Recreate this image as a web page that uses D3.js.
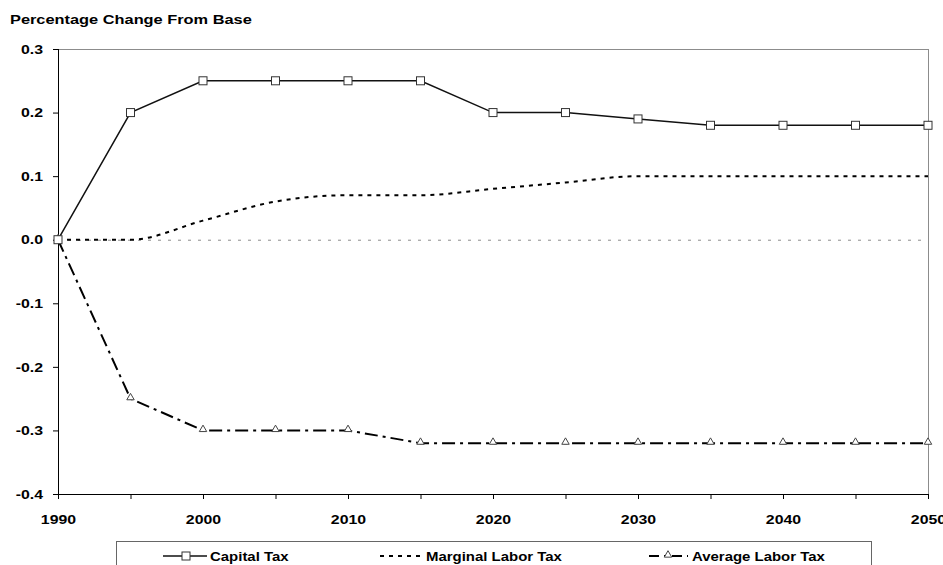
<!DOCTYPE html>
<html>
<head>
<meta charset="utf-8">
<script src="https://d3js.org/d3.v7.min.js"></script>
<style>
  body { margin: 0; background: #fff; }
  text { font-family: Arial, "Liberation Sans", sans-serif; font-weight: bold; }
</style>
</head>
<body>
<div id="canvas"></div>
<script>
  // Data
  var years = [1990, 1995, 2000, 2005, 2010, 2015, 2020, 2025, 2030, 2035, 2040, 2045, 2050];
  var capitalTax = [0, 0.20, 0.25, 0.25, 0.25, 0.25, 0.20, 0.20, 0.19, 0.18, 0.18, 0.18, 0.18];
  var marginalLaborTax = [0, 0, 0.03, 0.06, 0.07, 0.07, 0.08, 0.09, 0.10, 0.10, 0.10, 0.10, 0.10];
  var averageLaborTax = [0, -0.25, -0.30, -0.30, -0.30, -0.32, -0.32, -0.32, -0.32, -0.32, -0.32, -0.32, -0.32];
  var xTickLabels = [1990, 2000, 2010, 2020, 2030, 2040, 2050];
  var yTicks = [0.3, 0.2, 0.1, 0, -0.1, -0.2, -0.3, -0.4];
  var seriesNames = ['Capital Tax', 'Marginal Labor Tax', 'Average Labor Tax'];

  var W = 943, H = 565;
  var plotLeft = 58, plotRight = 928, plotTop = 49, plotBottom = 494;
  var stretch = 1.22; // text in the original is drawn a bit wide

  var svg = d3.select('#canvas').append('svg')
    .attr('width', W).attr('height', H);

  var x = d3.scaleLinear().domain([1990, 2050]).range([plotLeft, plotRight]);
  var y = d3.scaleLinear().domain([-0.4, 0.3]).range([plotBottom, plotTop]);

  // title
  svg.append('text')
    .attr('transform', 'translate(10,24) scale(1.26,1)')
    .style('font-size', '13px')
    .text('Percentage Change From Base');

  // frame (top / right in gray)
  svg.append('rect')
    .attr('x', plotLeft + 0.5).attr('y', plotTop + 0.5)
    .attr('width', plotRight - plotLeft).attr('height', plotBottom - plotTop)
    .attr('fill', 'none').attr('stroke', '#8c8c8c').attr('stroke-width', 1);

  // zero line
  svg.append('line')
    .attr('x1', plotLeft).attr('x2', plotRight)
    .attr('y1', y(0) + 0.5).attr('y2', y(0) + 0.5)
    .attr('stroke', '#8c8c8c').attr('stroke-width', 1)
    .attr('stroke-dasharray', '3,7');

  // axes
  var xAxis = d3.axisBottom(x)
    .tickValues(years)
    .tickSize(5)
    .tickFormat(function(d) { return xTickLabels.indexOf(d) >= 0 ? d : ''; });
  var gx = svg.append('g')
    .attr('transform', 'translate(0,' + plotBottom + ')')
    .call(xAxis);
  gx.select('.domain').attr('d', 'M' + plotLeft + ',0.5H' + plotRight).attr('stroke', '#000');
  gx.selectAll('.tick line').attr('stroke', '#000');
  gx.selectAll('.tick text')
    .attr('y', 0).attr('dy', '0')
    .attr('transform', 'translate(0,30) scale(' + stretch + ',1)')
    .style('font-size', '13px').attr('fill', '#000');

  var fmt = d3.format('.1f');
  var yAxis = d3.axisLeft(y)
    .tickValues(yTicks)
    .tickSize(5)
    .tickFormat(function(d) { return fmt(d).replace('\u2212', '-'); });
  var gy = svg.append('g')
    .attr('transform', 'translate(' + plotLeft + ',0)')
    .call(yAxis);
  gy.select('.domain').attr('d', 'M0.5,' + plotTop + 'V' + plotBottom).attr('stroke', '#000');
  gy.selectAll('.tick line').attr('stroke', '#000');
  gy.selectAll('.tick text')
    .attr('x', 0)
    .attr('transform', 'translate(-15,0) scale(' + stretch + ',1)')
    .style('font-size', '13px').attr('fill', '#000');

  // series
  function pts(vals) { return years.map(function(yr, i) { return [yr, vals[i]]; }); }

  var straight = d3.line().x(function(d) { return x(d[0]); }).y(function(d) { return y(d[1]); });
  var smooth = d3.line().curve(d3.curveMonotoneX)
    .x(function(d) { return x(d[0]); }).y(function(d) { return y(d[1]); });

  svg.append('path')
    .attr('d', smooth(pts(marginalLaborTax)))
    .attr('fill', 'none').attr('stroke', '#000').attr('stroke-width', 2)
    .attr('stroke-dasharray', '4,5');

  svg.append('path')
    .attr('d', straight(pts(averageLaborTax)))
    .attr('fill', 'none').attr('stroke', '#000').attr('stroke-width', 2)
    .attr('stroke-dasharray', '13,5,3,5');

  svg.append('path')
    .attr('d', straight(pts(capitalTax)))
    .attr('fill', 'none').attr('stroke', '#111').attr('stroke-width', 1.5);

  var tri = d3.symbol().type(d3.symbolTriangle).size(24);

  svg.append('g').selectAll('path')
    .data(pts(averageLaborTax))
    .enter().append('path')
      .attr('d', tri)
      .attr('transform', function(d) { return 'translate(' + x(d[0]) + ',' + (y(d[1]) - 1) + ')'; })
      .attr('fill', '#fff').attr('stroke', '#444').attr('stroke-width', 1);

  svg.append('g').selectAll('rect')
    .data(pts(capitalTax))
    .enter().append('rect')
      .attr('x', function(d) { return x(d[0]) - 4; })
      .attr('y', function(d) { return y(d[1]) - 4; })
      .attr('width', 8).attr('height', 8)
      .attr('fill', '#fff').attr('stroke', '#333').attr('stroke-width', 1);

  // legend
  var lg = svg.append('g');
  lg.append('rect')
    .attr('x', 116.5).attr('y', 541.5)
    .attr('width', 755).attr('height', 40)
    .attr('fill', '#fff').attr('stroke', '#666').attr('stroke-width', 1);

  var ly = 556;
  function legendText(tx, label) {
    lg.append('text')
      .attr('transform', 'translate(' + tx + ',' + (ly + 5) + ') scale(1.15,1)')
      .style('font-size', '13px').text(label);
  }

  lg.append('line').attr('x1', 163).attr('x2', 207).attr('y1', ly).attr('y2', ly)
    .attr('stroke', '#111').attr('stroke-width', 1.5);
  lg.append('rect').attr('x', 182).attr('y', ly - 4).attr('width', 8).attr('height', 8)
    .attr('fill', '#fff').attr('stroke', '#333');
  legendText(210, seriesNames[0]);

  lg.append('line').attr('x1', 380).attr('x2', 425).attr('y1', ly).attr('y2', ly)
    .attr('stroke', '#000').attr('stroke-width', 2).attr('stroke-dasharray', '4,5');
  legendText(426, seriesNames[1]);

  lg.append('line').attr('x1', 649).attr('x2', 688).attr('y1', ly).attr('y2', ly)
    .attr('stroke', '#000').attr('stroke-width', 2).attr('stroke-dasharray', '10,5,3,5');
  lg.append('path').attr('d', tri)
    .attr('transform', 'translate(668,' + (ly - 1) + ')')
    .attr('fill', '#fff').attr('stroke', '#444');
  legendText(692, seriesNames[2]);
</script>
</body>
</html>
